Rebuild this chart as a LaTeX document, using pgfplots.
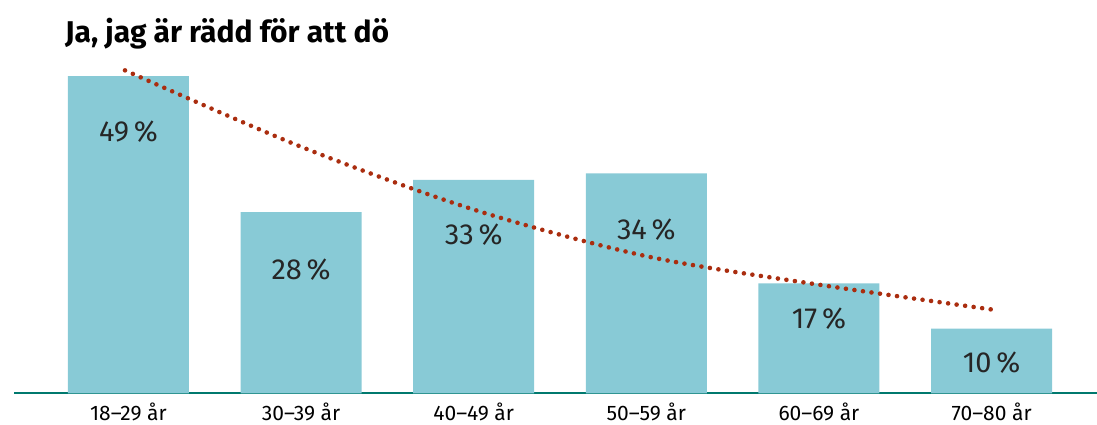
\documentclass[border=0pt]{standalone}
\usepackage{fontspec}
\setmainfont{Fira Sans}
\usepackage{pgfplots}
\pgfplotsset{compat=1.18}

\definecolor{barblue}{RGB}{136,202,214}
\definecolor{baseteal}{RGB}{0,121,110}
\definecolor{trendred}{RGB}{170,45,15}

\begin{document}
\begin{tikzpicture}
\useasboundingbox (-14pt,-31.5pt) rectangle (1083pt,393.5pt);
\begin{axis}[
    at={(0,0)}, anchor=south west,
    width=1083pt, height=333.5pt, scale only axis,
    xmin=-0.663, xmax=5.611,
    ymin=0, ymax=51.5,
    axis x line*=bottom,
    axis y line=none,
    axis line style={-, draw=baseteal, line width=2pt},
    xtick={0,...,5},
    xticklabels={18–29 år,30–39 år,40–49 år,50–59 år,60–69 år,70–80 år},
    major tick length=0pt,
    xticklabel style={anchor=base, inner sep=0pt, yshift=-27pt, font=\fontsize{21}{21}\selectfont},
    clip=false,
]
\addplot[ybar, bar width=0.701, fill=barblue, draw=none]
    coordinates {(0,49) (1,28) (2,33) (3,34) (4,17) (5,10)};
\addplot[trendred, line width=4.6pt, line cap=round, dash pattern=on 0pt off 8.6pt, smooth, tension=0.5]
    coordinates {(-0.02,49.9) (1,38.1) (2,28.4) (3,21.2) (4,16.8) (5.02,12.9)};
\begin{scope}[every node/.style={font=\fontsize{29}{29}\selectfont, inner sep=0pt, text=black!85}]
\node at (axis cs:0,40.5) {49\,\%};
\node at (axis cs:1,19.1) {28\,\%};
\node at (axis cs:2,24.5) {33\,\%};
\node at (axis cs:3,25.3) {34\,\%};
\node at (axis cs:4,11.6) {17\,\%};
\node at (axis cs:5,4.8) {10\,\%};
\end{scope}
\end{axis}
\node[anchor=base west, inner sep=0pt, font=\bfseries\fontsize{30}{30}\selectfont] at (51pt,350.5pt) {Ja, jag är rädd för att dö};
\end{tikzpicture}
\end{document}
